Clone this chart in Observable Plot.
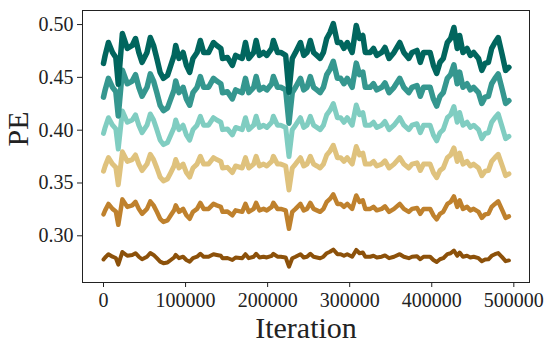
<!DOCTYPE html>
<html>
<head>
<meta charset="utf-8">
<script src="https://cdn.jsdelivr.net/npm/d3@7"></script>
<script src="https://cdn.jsdelivr.net/npm/@observablehq/plot@0.6"></script>
<style>
  html, body { margin: 0; padding: 0; background: #fff; }
  #chart svg { display: block; }
  #chart svg text { font-family: 'Liberation Serif', 'DejaVu Serif', serif; }
</style>
</head>
<body>
<div id="chart"></div>
<script>
const iterations = [0,2000,6000,11000,15000,18000,23000,29000,35000,39000,
  43000,47000,53000,57000,61000,65000,69000,73000,78000,82000,
  86000,88000,92000,97000,101000,105000,109000,114000,118000,122000,
  128000,134000,138000,143000,145000,151000,157000,161000,169000,173000,
  177000,183000,186000,190000,195000,199000,205000,207000,212000,216000,
  222000,226000,230000,234000,240000,244000,248000,252000,256000,260000,
  264000,268000,272000,276000,280000,285000,289000,293000,297000,303000,
  308000,312000,316000,319000,325000,329000,333000,339000,343000,348000,
  354000,361000,366000,372000,376000,382000,386000,390000,394000,398000,
  402000,406000,410000,414000,419000,423000,427000,431000,434000,438000,
  443000,447000,451000,457000,461000,465000,469000,473000,477000,481000,
  486000,490000,494000];

const peBrown = [0.2776,0.2795,0.2826,0.2802,0.2790,0.2727,0.2847,0.2811,0.2819,0.2835,
  0.2802,0.2778,0.2802,0.2837,0.2819,0.2788,0.2755,0.2741,0.2748,0.2771,
  0.2795,0.2819,0.2788,0.2802,0.2771,0.2755,0.2788,0.2802,0.2830,0.2802,
  0.2802,0.2826,0.2819,0.2811,0.2788,0.2790,0.2771,0.2795,0.2788,0.2826,
  0.2788,0.2802,0.2830,0.2795,0.2802,0.2795,0.2811,0.2830,0.2802,0.2802,
  0.2795,0.2708,0.2788,0.2802,0.2826,0.2795,0.2802,0.2830,0.2802,0.2795,
  0.2788,0.2802,0.2835,0.2849,0.2870,0.2826,0.2826,0.2811,0.2826,0.2802,
  0.2866,0.2835,0.2842,0.2802,0.2802,0.2811,0.2795,0.2802,0.2814,0.2788,
  0.2802,0.2826,0.2802,0.2788,0.2802,0.2807,0.2778,0.2802,0.2802,0.2802,
  0.2771,0.2752,0.2778,0.2788,0.2826,0.2835,0.2861,0.2811,0.2842,0.2802,
  0.2811,0.2795,0.2802,0.2788,0.2760,0.2776,0.2778,0.2811,0.2826,0.2837,
  0.2795,0.2760,0.2767];

const peOrange = [0.3203,0.3241,0.3302,0.3255,0.3231,0.3104,0.3345,0.3274,0.3288,0.3321,
  0.3255,0.3208,0.3255,0.3326,0.3288,0.3227,0.3161,0.3132,0.3146,0.3194,
  0.3241,0.3288,0.3227,0.3255,0.3194,0.3161,0.3227,0.3255,0.3312,0.3255,
  0.3255,0.3302,0.3288,0.3274,0.3227,0.3231,0.3194,0.3241,0.3227,0.3302,
  0.3227,0.3255,0.3312,0.3241,0.3255,0.3241,0.3274,0.3312,0.3255,0.3255,
  0.3241,0.3066,0.3227,0.3255,0.3302,0.3241,0.3255,0.3312,0.3255,0.3241,
  0.3227,0.3255,0.3321,0.3349,0.3392,0.3302,0.3302,0.3274,0.3302,0.3255,
  0.3382,0.3321,0.3335,0.3255,0.3255,0.3274,0.3241,0.3255,0.3279,0.3227,
  0.3255,0.3302,0.3255,0.3227,0.3255,0.3264,0.3208,0.3255,0.3255,0.3255,
  0.3194,0.3156,0.3208,0.3227,0.3302,0.3321,0.3373,0.3274,0.3335,0.3255,
  0.3274,0.3241,0.3255,0.3227,0.3170,0.3203,0.3208,0.3274,0.3302,0.3326,
  0.3241,0.3170,0.3184];

const peTan = [0.3612,0.3661,0.3740,0.3679,0.3648,0.3483,0.3795,0.3704,0.3722,0.3765,
  0.3679,0.3618,0.3679,0.3771,0.3722,0.3642,0.3556,0.3520,0.3538,0.3599,
  0.3661,0.3722,0.3642,0.3679,0.3599,0.3556,0.3642,0.3679,0.3753,0.3679,
  0.3679,0.3740,0.3722,0.3704,0.3642,0.3648,0.3599,0.3661,0.3642,0.3740,
  0.3642,0.3679,0.3753,0.3661,0.3679,0.3661,0.3704,0.3753,0.3679,0.3679,
  0.3661,0.3434,0.3642,0.3679,0.3740,0.3661,0.3679,0.3753,0.3679,0.3661,
  0.3642,0.3679,0.3765,0.3802,0.3857,0.3740,0.3740,0.3704,0.3740,0.3679,
  0.3845,0.3765,0.3783,0.3679,0.3679,0.3704,0.3661,0.3679,0.3710,0.3642,
  0.3679,0.3740,0.3679,0.3642,0.3679,0.3691,0.3618,0.3679,0.3679,0.3679,
  0.3599,0.3550,0.3618,0.3642,0.3740,0.3765,0.3832,0.3704,0.3783,0.3679,
  0.3704,0.3661,0.3679,0.3642,0.3569,0.3612,0.3618,0.3704,0.3740,0.3771,
  0.3661,0.3569,0.3587];

const peLight = [0.3969,0.4026,0.4118,0.4047,0.4012,0.3821,0.4181,0.4075,0.4096,0.4146,
  0.4047,0.3976,0.4047,0.4153,0.4096,0.4005,0.3906,0.3863,0.3884,0.3955,
  0.4026,0.4096,0.4005,0.4047,0.3955,0.3906,0.4005,0.4047,0.4132,0.4047,
  0.4047,0.4118,0.4096,0.4075,0.4005,0.4012,0.3955,0.4026,0.4005,0.4118,
  0.4005,0.4047,0.4132,0.4026,0.4047,0.4026,0.4075,0.4132,0.4047,0.4047,
  0.4026,0.3750,0.4005,0.4047,0.4118,0.4026,0.4047,0.4132,0.4047,0.4026,
  0.4005,0.4047,0.4146,0.4188,0.4252,0.4118,0.4118,0.4075,0.4118,0.4047,
  0.4238,0.4146,0.4167,0.4047,0.4047,0.4075,0.4026,0.4047,0.4082,0.4005,
  0.4047,0.4118,0.4047,0.4005,0.4047,0.4061,0.3976,0.4047,0.4047,0.4047,
  0.3955,0.3899,0.3976,0.4005,0.4118,0.4146,0.4224,0.4075,0.4167,0.4047,
  0.4075,0.4026,0.4047,0.4005,0.3920,0.3969,0.3976,0.4075,0.4118,0.4153,
  0.4026,0.3920,0.3941];

const peTeal = [0.4313,0.4381,0.4491,0.4406,0.4364,0.4134,0.4567,0.4440,0.4465,0.4525,
  0.4406,0.4321,0.4406,0.4533,0.4465,0.4355,0.4236,0.4185,0.4211,0.4296,
  0.4381,0.4465,0.4355,0.4406,0.4296,0.4236,0.4355,0.4406,0.4508,0.4406,
  0.4406,0.4491,0.4465,0.4440,0.4355,0.4364,0.4296,0.4381,0.4355,0.4491,
  0.4355,0.4406,0.4508,0.4381,0.4406,0.4381,0.4440,0.4508,0.4406,0.4406,
  0.4381,0.4066,0.4355,0.4406,0.4491,0.4381,0.4406,0.4508,0.4406,0.4381,
  0.4355,0.4406,0.4525,0.4576,0.4652,0.4491,0.4491,0.4440,0.4491,0.4406,
  0.4635,0.4525,0.4550,0.4406,0.4406,0.4440,0.4381,0.4406,0.4448,0.4355,
  0.4406,0.4491,0.4406,0.4355,0.4406,0.4423,0.4321,0.4406,0.4406,0.4406,
  0.4296,0.4228,0.4321,0.4355,0.4491,0.4525,0.4618,0.4440,0.4550,0.4406,
  0.4440,0.4381,0.4406,0.4355,0.4253,0.4313,0.4321,0.4440,0.4491,0.4533,
  0.4381,0.4253,0.4279];

const peDark = [0.4632,0.4708,0.4830,0.4736,0.4689,0.4434,0.4915,0.4774,0.4802,0.4868,
  0.4736,0.4642,0.4736,0.4877,0.4802,0.4679,0.4547,0.4491,0.4519,0.4613,
  0.4708,0.4802,0.4679,0.4736,0.4613,0.4547,0.4679,0.4736,0.4849,0.4736,
  0.4736,0.4830,0.4802,0.4774,0.4679,0.4689,0.4613,0.4708,0.4679,0.4830,
  0.4679,0.4736,0.4849,0.4708,0.4736,0.4708,0.4774,0.4849,0.4736,0.4736,
  0.4708,0.4359,0.4679,0.4736,0.4830,0.4708,0.4736,0.4849,0.4736,0.4708,
  0.4679,0.4736,0.4868,0.4925,0.5009,0.4830,0.4830,0.4774,0.4830,0.4736,
  0.4991,0.4868,0.4896,0.4736,0.4736,0.4774,0.4708,0.4736,0.4783,0.4679,
  0.4736,0.4830,0.4736,0.4679,0.4736,0.4755,0.4642,0.4736,0.4736,0.4736,
  0.4613,0.4538,0.4642,0.4679,0.4830,0.4868,0.4972,0.4774,0.4896,0.4736,
  0.4774,0.4708,0.4736,0.4679,0.4566,0.4632,0.4642,0.4774,0.4830,0.4877,
  0.4708,0.4566,0.4595];

const seriesValues = [peBrown, peOrange, peTan, peLight, peTeal, peDark];
const seriesColors = ["#8c510a", "#bf812d", "#dfc27d", "#80cdc1", "#35978f", "#01665e"];
const seriesWidths = [4, 4.5, 5, 5, 5.5, 5.5];
const xTicks = [0, 100000, 200000, 300000, 400000, 500000];
const yTicks = [0.30, 0.35, 0.40, 0.45, 0.50];
const xLabel = "Iteration";
const yLabel = "PE";

const font = "Liberation Serif";

const lineMarks = seriesValues.map((vals, k) =>
  Plot.line(vals, {
    x: (d, i) => iterations[i],
    y: d => d,
    stroke: seriesColors[k],
    strokeWidth: seriesWidths[k],
    strokeLinejoin: "round",
    strokeLinecap: "round",
    curve: "linear"
  })
);

const chart = Plot.plot({
  width: 549,
  height: 350,
  marginLeft: 82,
  marginRight: 20,
  marginTop: 10,
  marginBottom: 68,
  style: { fontFamily: font, fontSize: "20px", background: "#fff", color: "#222" },
  x: { domain: [-25600, 519100] },
  y: { domain: [0.2558, 0.5133] },
  marks: [
    ...lineMarks,
    Plot.frame({ stroke: "#222", strokeWidth: 1 }),
    Plot.axisX({ ticks: xTicks, tickFormat: d => String(d), tickSize: 5, tickPadding: 5, fontSize: 20, fontFamily: font, fontVariant: "normal", label: null, stroke: "#222" }),
    Plot.axisY({ ticks: yTicks, tickFormat: d3.format(".2f"), tickSize: 5, tickPadding: 4, fontSize: 20, fontFamily: font, fontVariant: "normal", label: null, stroke: "#222" }),
    Plot.text([yLabel], { frameAnchor: "left", dx: -64, rotate: -90, fontSize: 30, fontFamily: font, text: d => d, fill: "#222", lineAnchor: "middle" }),
    Plot.text([xLabel], { frameAnchor: "bottom", dy: 46, fontSize: 30, fontFamily: font, text: d => d, fill: "#222", lineAnchor: "middle" })
  ]
});

document.getElementById("chart").appendChild(chart);
</script>
</body>
</html>
